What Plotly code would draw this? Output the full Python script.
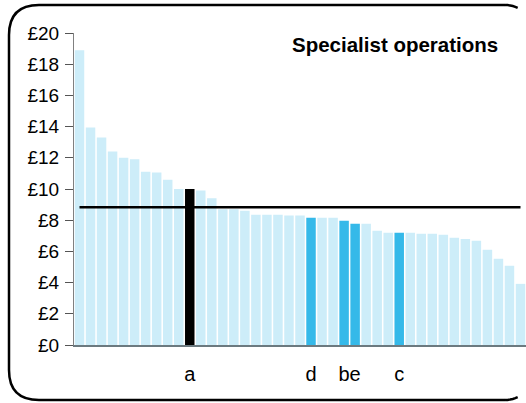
import math
import plotly.graph_objs as go

# Cost per unit for each provider, sorted high to low
values = [18.9, 13.95, 13.3, 12.4, 12.0, 11.9, 11.1, 11.05, 10.6, 10.0,
          10.0, 9.9, 9.4, 8.7, 8.7, 8.6, 8.35, 8.35, 8.35, 8.3,
          8.3, 8.15, 8.15, 8.15, 7.97, 7.78, 7.78, 7.33, 7.2, 7.2,
          7.2, 7.13, 7.13, 7.07, 6.88, 6.8, 6.68, 6.1, 5.53, 5.08,
          3.92]
# which bars are highlighted and what they are called
highlight_idx = [10, 21, 24, 25, 29]
highlight_lab = ['a', 'd', 'b', 'e', 'c']
average = 8.83
y_ticks = [0, 2, 4, 6, 8, 10, 12, 14, 16, 18, 20]

x = list(range(len(values)))
colors = []
for i in x:
    if i == highlight_idx[0]:
        colors.append('#000000')
    elif i in highlight_idx:
        colors.append('#35b9e9')
    else:
        colors.append('#cdedf9')

data = [
    go.Bar(x=x, y=values, marker={'color': colors, 'line': {'width': 0}},
           showlegend=False, hoverinfo='y'),
    go.Scatter(x=x, y=[average] * len(x), mode='lines',
               line={'color': '#000000', 'width': 2.5},
               showlegend=False, hoverinfo='skip'),
]

L, R, T, B = 74, 0, 33, 58
W, H = 526, 403
pw, ph = W - L - R, H - T - B


def px(v):
    return (v - L) / pw


def py(v):
    return (H - B - v) / ph


# rounded frame, its right side runs off the picture
fx0, fy0, fy1, rad, cx = 9, 5, 400, 30, 505
stop = 518


def arc(cy, top):
    pts = []
    for k in range(0, 91, 5):
        a = math.radians(k)
        xx = cx + rad * math.sin(a)
        if xx > stop:
            break
        yy = cy - rad * math.cos(a) if top else cy + rad * math.cos(a)
        pts.append((xx, yy))
    return pts


def seg(pts):
    return "M " + " L ".join("{},{}".format(px(a), py(b)) for a, b in pts)


left = "M {},{} L {},{} Q {},{} {},{} L {},{} Q {},{} {},{} L {},{}".format(
    px(cx), py(fy0), px(fx0 + rad), py(fy0), px(fx0), py(fy0),
    px(fx0), py(fy0 + rad), px(fx0), py(fy1 - rad), px(fx0), py(fy1),
    px(fx0 + rad), py(fy1), px(cx), py(fy1))

shapes = []
for p in [left, seg(arc(fy0 + rad, True)), seg(arc(fy1 - rad, False))]:
    shapes.append({'type': 'path', 'xref': 'paper', 'yref': 'paper', 'path': p,
                   'line': {'color': '#000000', 'width': 2.5}, 'layer': 'above'})

layout = go.Layout(
    width=W, height=H,
    margin={'l': L, 'r': R, 't': T, 'b': B, 'pad': 0},
    paper_bgcolor='white', plot_bgcolor='white',
    font={'family': 'Liberation Sans, Arial', 'size': 19, 'color': '#000000'},
    bargap=0.14,
    xaxis={'range': [-0.5, len(values) - 0.5], 'tickvals': highlight_idx,
           'ticktext': highlight_lab, 'ticks': '', 'tickangle': 0,
           'showgrid': False, 'zeroline': False, 'showline': True,
           'linecolor': '#6c7a80', 'linewidth': 2, 'ticklabelstandoff': 10,
           'tickfont': {'size': 20}},
    yaxis={'range': [0, 20], 'tickvals': y_ticks,
           'ticktext': ['£' + str(v) for v in y_ticks], 'ticks': 'outside',
           'ticklen': 8, 'tickcolor': '#555555', 'showgrid': False,
           'zeroline': False, 'showline': True, 'linecolor': '#808080',
           'linewidth': 1, 'ticklabelstandoff': 2},
    shapes=shapes,
    annotations=[{'text': '<b>Specialist operations</b>', 'xref': 'paper',
                  'yref': 'paper', 'x': px(500), 'y': py(45), 'xanchor': 'right',
                  'yanchor': 'middle', 'showarrow': False,
                  'font': {'size': 20.5}}],
)
fig = go.Figure(data=data, layout=layout)
fig.write_html("out.html", config={'displayModeBar': False},
               post_script="document.body.style.margin='0';")
